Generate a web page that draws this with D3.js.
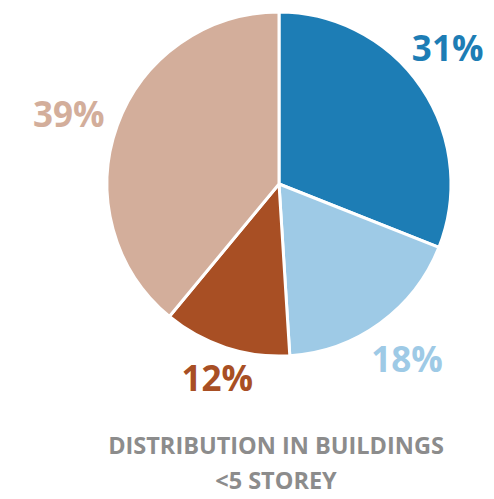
<!DOCTYPE html>
<html>
<head>
<meta charset="utf-8">
<script src="https://cdn.jsdelivr.net/npm/d3@7"></script>
<style>
html,body{margin:0;padding:0;background:#fff;}
svg{display:block;}
</style>
</head>
<body>
<svg id="chart" width="494" height="499"></svg>
<script>
const categories = ["A", "B", "C", "D"];
const values = [31, 18, 12, 39];
const labels = ["31%", "18%", "12%", "39%"];
const colors = ["#1d7db5", "#9ecae6", "#a84f24", "#d3ae9b"];
const titleLines = ["DISTRIBUTION IN BUILDINGS", "<5 STOREY"];

const svg = d3.select("#chart");
const cx = 279, cy = 184, r = 172, labelR = 216;
// small layout nudges for label placement (style, not data)
const nudge = [[-10, -14], [1, 1], [5, -11], [-7, 4]];
const data = categories.map((c, i) => ({cat: c, value: values[i], label: labels[i], color: colors[i], i}));

const pie = d3.pie().value(d => d.value).sort(null);
const arc = d3.arc().innerRadius(0).outerRadius(r);
const labelArc = d3.arc().innerRadius(labelR).outerRadius(labelR);
const arcs = pie(data);

const g = svg.append("g").attr("transform", `translate(${cx},${cy})`);
g.selectAll("path.slice").data(arcs).enter().append("path")
  .attr("class", "slice")
  .attr("d", arc)
  .attr("fill", d => d.data.color)
  .attr("stroke", "#fff")
  .attr("stroke-width", 3)
  .attr("stroke-linejoin", "round");

g.selectAll("text.lbl").data(arcs).enter().append("text")
  .attr("class", "lbl")
  .attr("transform", d => {
    const [x, y] = labelArc.centroid(d);
    const n = nudge[d.data.i];
    return `translate(${x + n[0]},${y + n[1]})`;
  })
  .attr("text-anchor", "middle")
  .attr("dy", "0.36em")
  .attr("font-family", "'Open Sans', sans-serif")
  .attr("font-weight", "bold")
  .attr("font-size", 35)
  .attr("fill", d => d.data.color)
  .text(d => d.data.label);

svg.selectAll("text.title").data(titleLines).enter().append("text")
  .attr("class", "title")
  .attr("x", 276)
  .attr("y", (d, i) => 454 + i * 35)
  .attr("text-anchor", "middle")
  .attr("font-family", "'Open Sans', sans-serif")
  .attr("font-weight", "bold")
  .attr("font-size", 23.5)
  .attr("fill", "#8c8c8c")
  .text(d => d);
</script>
</body>
</html>
